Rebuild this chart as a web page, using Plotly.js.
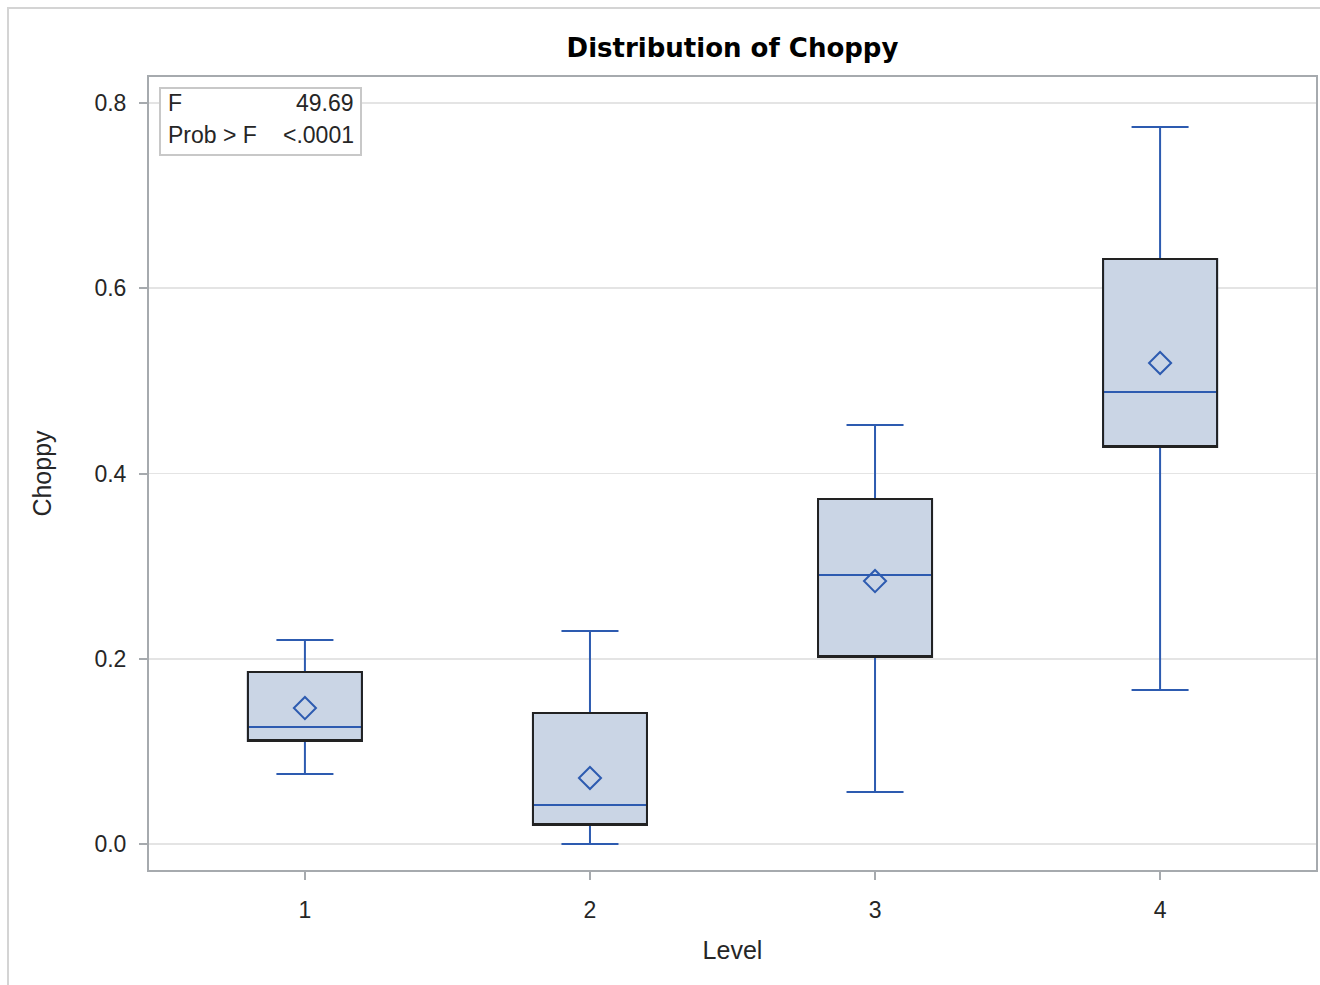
<!DOCTYPE html>
<html>
<head>
<meta charset="utf-8">
<script src="https://cdn.plot.ly/plotly-3.0.1.min.js"></script>
<style>
html, body { margin: 0; padding: 0; background: #fff; }
#chart { width: 1320px; height: 985px; }
</style>
</head>
<body>
<div id="chart"></div>
<script>
// Data
const levels = [1, 2, 3, 4];
const tickLabels = ["1", "2", "3", "4"];
const lowerWhisker = [0.0756, 0.0000, 0.0561, 0.1663];
const q1Values = [0.1112, 0.0205, 0.2019, 0.4286];
const medianValues = [0.1263, 0.0421, 0.2904, 0.4880];
const q3Values = [0.1857, 0.1414, 0.3725, 0.6316];
const upperWhisker = [0.2202, 0.2300, 0.4524, 0.7741];
const meanValues = [0.1468, 0.0713, 0.2839, 0.5193];
const statLabels = ["F", "Prob > F"];
const statValues = ["49.69", "<.0001"];

const blue = '#2D5BB0';
const fill = '#CAD5E5';
const font = 'Liberation Sans, Arial, sans-serif';
const txt = '#262626';

const traces = [
  {
    type: 'box', x: levels,
    q1: q1Values, median: medianValues, q3: q3Values,
    lowerfence: lowerWhisker, upperfence: upperWhisker,
    boxpoints: false, width: 0.4, whiskerwidth: 0.5,
    fillcolor: fill, line: { color: blue, width: 2 },
    showlegend: false, hoverinfo: 'skip'
  },
  {
    type: 'box', x: levels,
    q1: q1Values, median: q1Values, q3: q3Values,
    lowerfence: q1Values, upperfence: q3Values,
    boxpoints: false, width: 0.4, whiskerwidth: 0,
    fillcolor: 'rgba(0,0,0,0)', line: { color: '#222222', width: 2 },
    showlegend: false, hoverinfo: 'skip'
  },
  {
    type: 'scatter', mode: 'markers', x: levels, y: meanValues,
    marker: { symbol: 'diamond-open', size: 17, color: blue, line: { width: 2, color: blue } },
    showlegend: false, hoverinfo: 'skip'
  }
];

const plotW = 1167, plotH = 793;
const layout = {
  width: 1320, height: 985,
  margin: { l: 149, r: 4, t: 77, b: 115 },
  paper_bgcolor: '#fff', plot_bgcolor: '#fff',
  font: { family: font, size: 23, color: txt },
  title: {
    text: '<b>Distribution of Choppy</b>',
    font: { family: 'DejaVu Sans, sans-serif', size: 26, color: '#000' },
    x: (149 + plotW / 2) / 1320, xanchor: 'center',
    y: 1 - 48 / 985, yanchor: 'middle'
  },
  xaxis: {
    range: [0.453, 4.547],
    tickvals: levels, ticktext: tickLabels,
    showgrid: false, zeroline: false,
    showline: true, mirror: true, linecolor: '#A6AAAE', linewidth: 2,
    ticks: 'outside', ticklen: 8, tickcolor: '#A6AAAE', tickwidth: 2,
    ticklabelstandoff: 10,
    tickfont: { size: 23, color: txt },
    title: { text: 'Level', font: { size: 25, color: txt }, standoff: 20 }
  },
  yaxis: {
    range: [-0.028, 0.828],
    tickvals: [0, 0.2, 0.4, 0.6, 0.8], tickformat: '.1f',
    showgrid: true, gridcolor: '#E4E4E4', gridwidth: 1.5, zeroline: false,
    showline: true, mirror: true, linecolor: '#A6AAAE', linewidth: 2,
    ticks: 'outside', ticklen: 8, tickcolor: '#A6AAAE', tickwidth: 2,
    ticklabelstandoff: 8,
    tickfont: { size: 23, color: txt },
    title: { text: 'Choppy', font: { size: 25, color: txt }, standoff: 36 }
  },
  shapes: [
    { type: 'rect', xref: 'paper', yref: 'paper',
      x0: (8 - 149) / plotW, x1: (1330 - 149) / plotW,
      y0: (870 - 1000) / plotH, y1: (870 - 8) / plotH,
      line: { color: '#D4D4D4', width: 2 }, layer: 'below' },
    { type: 'rect', xref: 'paper', yref: 'paper',
      x0: (160 - 149) / plotW, x1: (361 - 149) / plotW,
      y0: (870 - 155) / plotH, y1: (870 - 88) / plotH,
      line: { color: '#C8C8C8', width: 2 }, fillcolor: '#fff', layer: 'above' }
  ],
  annotations: [
    { xref: 'paper', yref: 'paper', x: (166 - 149) / plotW, y: (870 - 103) / plotH,
      xanchor: 'left', yanchor: 'middle', showarrow: false, text: statLabels[0],
      font: { size: 23, color: txt } },
    { xref: 'paper', yref: 'paper', x: (356 - 149) / plotW, y: (870 - 103) / plotH,
      xanchor: 'right', yanchor: 'middle', showarrow: false, text: statValues[0],
      font: { size: 23, color: txt } },
    { xref: 'paper', yref: 'paper', x: (166 - 149) / plotW, y: (870 - 135) / plotH,
      xanchor: 'left', yanchor: 'middle', showarrow: false, text: statLabels[1],
      font: { size: 23, color: txt } },
    { xref: 'paper', yref: 'paper', x: (356 - 149) / plotW, y: (870 - 135) / plotH,
      xanchor: 'right', yanchor: 'middle', showarrow: false, text: statValues[1],
      font: { size: 23, color: txt } }
  ]
};

Plotly.newPlot('chart', traces, layout, { displayModeBar: false, staticPlot: true });
</script>
</body>
</html>
